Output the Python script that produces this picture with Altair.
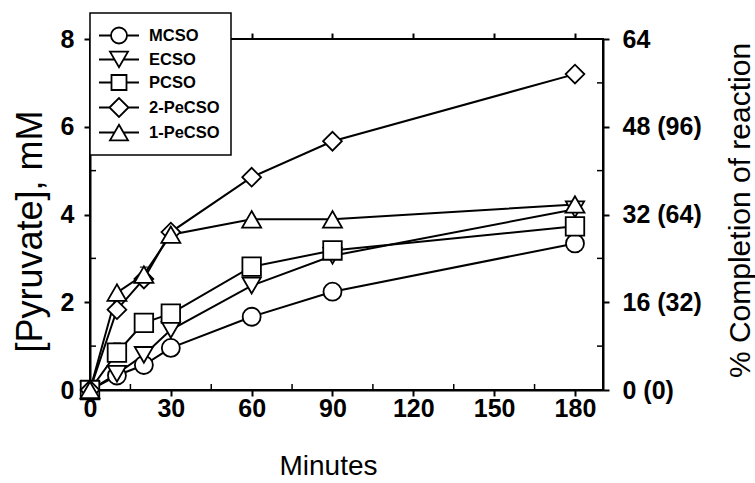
import altair as alt
import pandas as pd

FONT = "Liberation Sans"

# Sampling times (min) and pyruvate formed (mM) for each substrate
minutes = [0, 10, 20, 30, 60, 90, 180]
series = ["MCSO", "ECSO", "PCSO", "2-PeCSO", "1-PeCSO"]
mcso = [0.0, 0.33, 0.57, 0.96, 1.67, 2.24, 3.34]
ecso = [0.0, 0.37, 0.80, 1.37, 2.38, 3.06, 4.12]
pcso = [0.0, 0.85, 1.53, 1.74, 2.81, 3.18, 3.73]
pe2_cso = [0.0, 1.83, 2.53, 3.60, 4.85, 5.67, 7.20]
pe1_cso = [0.0, 2.22, 2.63, 3.54, 3.89, 3.89, 4.23]

# Visible error bars (upper whiskers)
err_series = ["PCSO", "1-PeCSO"]
err_minutes = [10, 20]
err_low = [0.85, 2.63]
err_high = [1.07, 2.80]

# Open markers in the plot
marker_shapes = ["circle", "triangle-down", "square", "diamond", "triangle-up"]
marker_sizes = [324, 361, 256, 400, 361]

# Legend keys: a short line segment with the marker in the middle
legend_paths = [
    "M-1.905,0H-0.762M0.762,0H1.905M-0.762,0A0.762,0.762,0,1,0,0.762,0A0.762,0.762,0,1,0,-0.762,0Z",
    "M-1.905,0H-0.43M0.43,0H1.905M-0.857,-0.742L0.857,-0.742L0,0.742Z",
    "M-1.905,0H-0.714M0.714,0H1.905M-0.714,-0.714H0.714V0.714H-0.714Z",
    "M-1.905,0H-0.905M0.905,0H1.905M-0.905,0L0,-0.905L0.905,0L0,0.905Z",
    "M-1.905,0H-0.43M0.43,0H1.905M0,-0.742L0.857,0.742L-0.857,0.742Z",
]

# Axis ticks
left_ticks = [0, 2, 4, 6, 8]
left_minor = [1, 3, 5, 7]
right_labels = ["\u2007\u2007\u20070 (0)", "16 (32)", "32 (64)", "48 (96)", "64"]
x_ticks = [0, 30, 60, 90, 120, 150, 180]
x_minor = [15, 45, 75, 105, 135, 165]

W, H = 513, 351
x_scale = alt.Scale(domain=[0, 190.4], nice=False, zero=False)
y_scale = alt.Scale(domain=[0, 8], nice=False)

values = [mcso, ecso, pcso, pe2_cso, pe1_cso]
rows = []
for name, vals in zip(series, values):
    for m, v in zip(minutes, vals):
        rows.append({"series": name, "minutes": m, "pyruvate": v})
df = pd.DataFrame(rows)

err_df = pd.DataFrame({"series": err_series, "minutes": err_minutes,
                       "low": err_low, "high": err_high})

x_axis = alt.Axis(
    values=x_ticks, format="d", title="Minutes", grid=False, labelFlush=False,
    tickSize=6, tickWidth=2, tickColor="black",
    domainColor="black", domainWidth=2,
    labelFont=FONT, labelFontSize=25, labelFontWeight="bold", labelColor="black",
    labelPadding=0,
    titleFont=FONT, titleFontSize=28, titleFontWeight="normal", titleColor="black",
    titleX=238, titleY=76, titleAlign="center", titleBaseline="middle",
)
y_axis = alt.Axis(
    values=left_ticks, format="d", title="[Pyruvate], mM", grid=False, labelFlush=False,
    tickSize=6, tickWidth=2, tickColor="black",
    domainColor="black", domainWidth=2,
    labelFont=FONT, labelFontSize=25, labelFontWeight="bold", labelColor="black",
    labelPadding=10,
    titleFont=FONT, titleFontSize=36, titleFontWeight="normal", titleColor="black",
    titleAngle=270, titleX=-60, titleY=192, titleAlign="center", titleBaseline="middle",
)

X = alt.X("minutes:Q", scale=x_scale, axis=x_axis)
Y = alt.Y("pyruvate:Q", scale=y_scale, axis=y_axis)

lines = alt.Chart(df).mark_line(color="black", strokeWidth=2).encode(
    x=X, y=Y, detail="series:N", order="minutes:Q"
)

err_rule = alt.Chart(err_df).mark_rule(color="black", strokeWidth=1.5).encode(
    x=alt.X("minutes:Q", scale=x_scale), y=alt.Y("low:Q", scale=y_scale), y2="high:Q"
)
err_cap = alt.Chart(err_df).mark_tick(color="black", thickness=1.5, size=8, orient="horizontal").encode(
    x=alt.X("minutes:Q", scale=x_scale), y=alt.Y("high:Q", scale=y_scale)
)

points = alt.Chart(df).mark_point(
    filled=True, fill="white", stroke="black", strokeWidth=1.8, opacity=1
).encode(
    x=alt.X("minutes:Q", scale=x_scale),
    y=alt.Y("pyruvate:Q", scale=y_scale),
    shape=alt.Shape("series:N", scale=alt.Scale(domain=series, range=marker_shapes), legend=None),
    size=alt.Size("series:N", scale=alt.Scale(domain=series, range=marker_sizes), legend=None),
)

# Carries only the legend: the filter leaves no marks, the explicit domain keeps the entries
legend_keys = alt.Chart(df).transform_filter("datum.minutes < 0").mark_point(
    filled=False, color="black", strokeWidth=1.8, opacity=1, size=441
).encode(
    x=alt.X("minutes:Q", scale=x_scale),
    y=alt.Y("pyruvate:Q", scale=y_scale),
    shape=alt.Shape(
        "series:N",
        scale=alt.Scale(domain=series, range=legend_paths),
        legend=alt.Legend(
            title=None, orient="none", legendX=0, legendY=-26,
            fillColor="white", strokeColor="black", padding=11,
            symbolSize=441, symbolOffset=6.5, symbolStrokeWidth=1.8,
            symbolStrokeColor="black",
            rowPadding=0, labelOffset=18.5,
            labelFont=FONT, labelFontSize=16.5, labelFontWeight="bold", labelColor="black",
        ),
    ),
)

minor_y_df = pd.DataFrame({"v": left_minor})
minor_left = alt.Chart(minor_y_df).mark_rule(color="black", strokeWidth=1.5).encode(
    y=alt.Y("v:Q", scale=y_scale), x=alt.value(0), x2=alt.value(6)
)
minor_right = alt.Chart(minor_y_df).mark_rule(color="black", strokeWidth=1.5).encode(
    y=alt.Y("v:Q", scale=y_scale), x=alt.value(W - 6), x2=alt.value(W)
)
minor_x_df = pd.DataFrame({"m": x_minor})
minor_bottom = alt.Chart(minor_x_df).mark_rule(color="black", strokeWidth=1.5).encode(
    x=alt.X("m:Q", scale=x_scale), y=alt.value(H), y2=alt.value(H - 6)
)

main = alt.layer(
    lines, err_rule, err_cap, points, minor_left, minor_right, minor_bottom, legend_keys
).resolve_scale(shape="independent", size="independent")

label_expr = " : ".join(
    f"datum.value == {v} ? '{lab}'" for v, lab in zip(left_ticks, right_labels)
) + " : ''"

# Right-hand axis (concentration and % completion) plus ticks along the top edge
frame_df = pd.DataFrame({"v": left_ticks, "m": x_ticks[:5]})
right_axis = alt.Chart(frame_df).mark_point(opacity=0).encode(
    y=alt.Y(
        "v:Q", scale=y_scale,
        axis=alt.Axis(
            orient="right", values=left_ticks, labelExpr=label_expr, grid=False,
            title="% Completion of reaction", labelFlush=False,
            tickSize=6, tickWidth=2, tickColor="black",
            domainColor="black", domainWidth=2,
            labelFont=FONT, labelFontSize=25, labelFontWeight="bold", labelColor="black",
            labelPadding=13, labelAlign="left",
            titleFont=FONT, titleFontSize=30, titleFontWeight="normal", titleColor="black",
            titleAngle=270, titleX=137, titleY=171, titleAlign="center", titleBaseline="middle",
        ),
    ),
    x=alt.X(
        "m:Q", scale=x_scale,
        axis=alt.Axis(
            orient="top", values=x_ticks, labels=False, title=None, grid=False,
            domain=False, tickSize=6, tickWidth=2, tickColor="black",
        ),
    ),
)

chart = alt.layer(main, right_axis).resolve_scale(y="independent", x="independent").properties(
    width=W, height=H,
    autosize=alt.AutoSizeParams(type="none"),
    padding={"left": 90, "top": 39, "right": 755 - 90 - W, "bottom": 483 - 39 - H},
    background="white",
).configure_view(stroke="black", strokeWidth=2).configure_legend(strokeWidth=1.5)

chart.save("out.html", embed_options={"renderer": "svg", "actions": False})
